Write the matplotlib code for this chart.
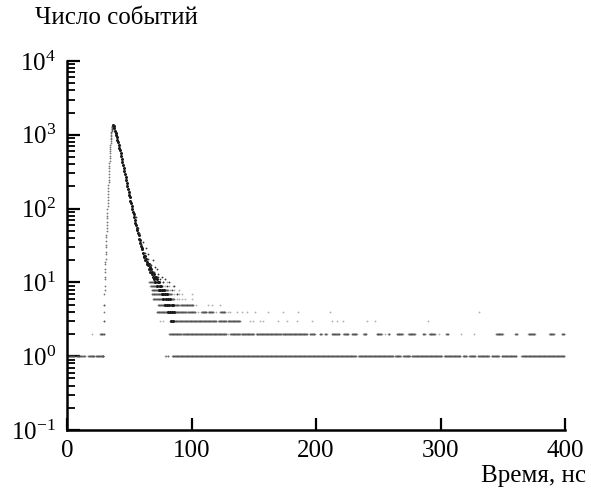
import numpy as np
import matplotlib
matplotlib.use("Agg")
import matplotlib.pyplot as plt
from matplotlib.ticker import LogLocator, FixedLocator, NullLocator

plt.rcParams['font.family'] = ['Liberation Serif', 'DejaVu Serif']
plt.rcParams['mathtext.fontset'] = 'custom'
plt.rcParams['mathtext.rm'] = 'Liberation Serif'
plt.rcParams['mathtext.it'] = 'Liberation Serif:italic'

# --- data ---
# rising edge of the peak, one bin every 0.1 ns from 29.0 ns
rise_t0 = 29.0
rise_step = 0.1
rise_n = [1, 1, 2, 1, 2, 2, 3, 3, 4, 5, 5, 7, 8, 9, 11, 12, 14, 15, 18, 19,
          21, 24, 26, 30, 32, 36, 41, 44, 49, 55, 60, 66, 74, 80, 88, 98,
          107, 119, 130, 143, 158, 172, 190, 206, 228, 246, 270, 296, 320, 352,
          380, 414, 445, 484, 520, 562, 600, 648, 690, 738, 780, 828, 870, 918,
          960, 1000, 1045, 1080, 1120, 1150, 1190, 1215, 1250, 1270, 1295,
          1310, 1330, 1340, 1350]

# decay side, one bin every 0.5 ns from 37.0 ns
decay_t0 = 37.0
decay_step = 0.5
decay_n = [1350, 1300, 1220, 1140, 1070, 990, 930, 850, 790, 735,
           670, 615, 560, 515, 470, 430, 385, 355, 322, 292,
           265, 244, 220, 203, 184, 170, 152, 142, 128, 120,
           108, 100, 91, 85, 77, 71, 64, 60, 54, 51,
           46, 44, 39, 37, 34, 31, 29, 28, 25, 23,
           22, 23, 20, 21, 19, 18, 17, 18, 15, 16,
           14, 15, 13, 14, 12, 13, 11, 12, 10, 12,
           9, 11, 10, 8, 10, 9, 8, 9, 7, 8,
           7, 6, 8, 5, 7, 6, 5, 7, 4, 6,
           5, 4, 6, 3, 5, 4, 3, 5, 4]

# extra scattered bins in the tail of the peak
tail_t = [55.3, 57.2, 58.2, 59.6, 61.1, 62.4, 63.3, 64.7, 65.4, 66.8, 67.6,
          68.9, 69.8, 70.6, 71.9, 72.7, 73.4, 74.8, 76.2, 77.5, 79.1, 80.6,
          82.3, 84.1, 86.0, 88.2]
tail_n = [78, 55, 46, 33, 35, 25, 29, 21, 24, 18, 17, 20, 14, 16, 15, 12, 13,
          11, 12, 10, 11, 9, 10, 8, 9, 7]

# bins holding the same small count: (start, end) ranges in ns, and single bins
bin_width = 0.25
ones_runs = [(1, 6), (7.5, 12), (13, 14.5), (17, 22), (23, 29), (79, 79.5),
             (81, 81.5), (84.5, 232), (234, 262), (263.5, 268), (270, 275.5),
             (277, 301), (303, 316), (318, 321), (323, 328), (330, 339),
             (341, 347), (349, 361), (365, 399.5)]
twos_runs = [(26.5, 28.5), (82, 92), (93, 128), (131, 139), (140, 150),
             (152, 172), (173, 193), (195, 199), (203, 204.5), (207, 208.6),
             (212.6, 219), (222, 226), (228.7, 232.7), (238, 240.7),
             (248.7, 252.7), (258, 259), (264.8, 269.6), (274.2, 279.5),
             (285.7, 287.6), (291, 295.6), (304.4, 306.3), (344.6, 350),
             (359.8, 361.7), (370.5, 375.9), (387.4, 391.2), (397.3, 399.5)]
twos_pts = [20.0, 129.7, 255.4, 299.0, 316.5, 327.2]
threes_runs = [(82.7, 120), (121.5, 128), (129, 139)]
threes_pts = [74.7, 77.4, 147, 149.7, 155, 157.6, 169.7, 176.5, 184.4, 196.6,
              212.6, 216.7, 222, 240.7, 247.4, 290.2]
fours_runs = [(72, 96), (97, 103), (108, 112), (113.5, 117.5), (123, 127)]
fours_pts = [105.5, 110, 119.5, 129.6, 131, 136.3, 140.3, 144.3, 151, 161.7,
             173.8, 185.8, 211.2, 331]
fives_runs = [(73, 90), (91, 101.5)]
fives_pts = [104, 113.5, 116.2, 122.9]
sixes_runs = [(69, 80), (81, 86)]
sixes_pts = [88, 90, 92.5, 94.8, 100.1]
sevens_runs = [(68, 78), (79, 84)]
sevens_pts = [86, 88.5, 90, 92, 100]
eights_runs = [(68, 76), (77, 81)]
eights_pts = [83, 86, 90]
nines_runs = [(67, 75)]
nines_pts = [77, 79, 82, 85]
tens_runs = [(66, 73)]
tens_pts = [75, 77, 80]

x_ticks = [0, 100, 200, 300, 400]


def expand(runs):
    return np.concatenate([np.arange(a, b + 1e-9, bin_width) for a, b in runs])


fig = plt.figure(figsize=(5.91, 4.90), dpi=100)
ax = fig.add_axes([67 / 591, 60 / 490, 498 / 591, 369 / 490])

dot = dict(linestyle='none', marker='o', markersize=1.3, markeredgewidth=0)

levels = [
    (1, ones_runs, []), (2, twos_runs, twos_pts), (3, threes_runs, threes_pts),
    (4, fours_runs, fours_pts), (5, fives_runs, fives_pts),
    (6, sixes_runs, sixes_pts), (7, sevens_runs, sevens_pts),
    (8, eights_runs, eights_pts), (9, nines_runs, nines_pts),
    (10, tens_runs, tens_pts),
]
for level, runs, pts in levels:
    t = np.concatenate([expand(runs), np.array(pts, dtype=float)])
    ax.plot(t, np.full(len(t), level), color='#505050', alpha=0.45, **dot)

rise_t = rise_t0 + rise_step * np.arange(len(rise_n))
decay_t = decay_t0 + decay_step * np.arange(len(decay_n))
ax.plot(rise_t, rise_n, color='#555555', alpha=0.8, **dot)
ax.plot(decay_t, decay_n, color='#1a1a1a', linestyle='none', marker='o',
        markersize=2.2, markeredgewidth=0)
ax.plot(tail_t, tail_n, color='#333333', **dot)

ax.set_yscale('log')
ax.set_xlim(0, 400)
ax.set_ylim(0.1, 1e4)

for s in ['top', 'right']:
    ax.spines[s].set_visible(False)
for s in ['left', 'bottom']:
    ax.spines[s].set_linewidth(1.8)

ax.xaxis.set_major_locator(FixedLocator(x_ticks))
ax.xaxis.set_minor_locator(NullLocator())
ax.yaxis.set_major_locator(LogLocator(base=10, numticks=10))
ax.yaxis.set_minor_locator(LogLocator(base=10, subs=np.arange(2, 10), numticks=10))

ax.tick_params(axis='both', which='major', direction='in', length=9,
               width=1.6, labelsize=18, color='black')
ax.tick_params(axis='y', which='minor', direction='in', length=6, width=1.3)
ax.tick_params(axis='x', which='major', pad=7)
ax.tick_params(axis='y', which='major', pad=8)

fig.text(35 / 591, 1 - 18 / 490, 'Число событий', fontsize=18,
         ha='left', va='center')
fig.text(586 / 591, 1 - 476 / 490, 'Время, нс', fontsize=18,
         ha='right', va='center')

fig.savefig('out.png', dpi=100)
